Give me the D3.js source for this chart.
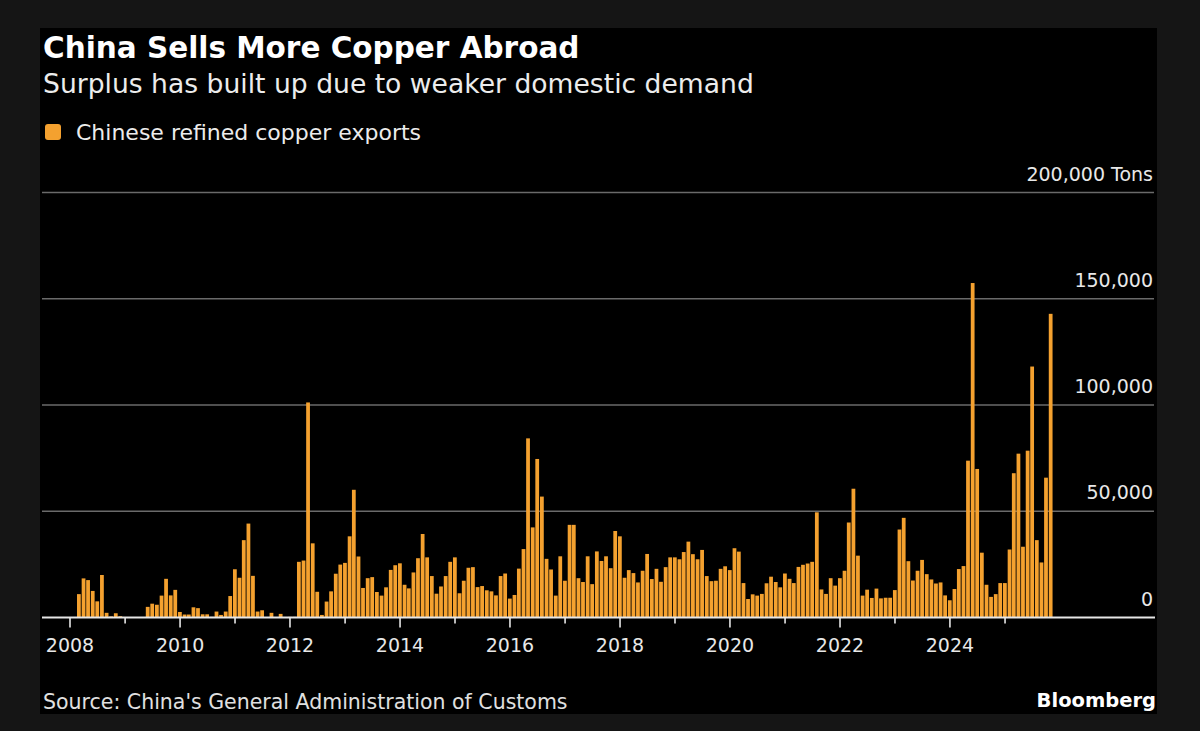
<!DOCTYPE html>
<html>
<head>
<meta charset="utf-8">
<script src="https://cdn.jsdelivr.net/npm/d3@7"></script>
<style>
  html, body { margin: 0; padding: 0; background: #151515; }
  svg { display: block; }
  text { font-family: "DejaVu Sans", sans-serif; }
</style>
</head>
<body>
<svg id="chart" width="1200" height="731"></svg>
<script>
// ---- data (thousand tons, monthly, starting Jan 2008) ----
const firstMonth = [2008, 0];
const exportsKt = [
  // 2008
  0, 11, 18.4, 17.6, 12.5, 7.6, 20, 2.2, 0.5, 2, 0.6, 0,
  // 2009
  0, 0, 0, 0, 5, 6.5, 6, 10.3, 18.2, 10.4, 13, 2.6,
  // 2010
  1.4, 1.4, 4.8, 4.4, 1.5, 1.5, 0.3, 2.8, 1.2, 2.8, 10.1, 22.7,
  // 2011
  18.7, 36.4, 44.2, 19.6, 2.8, 3.4, 0, 2.2, 0, 1.7, 0, 0.3,
  // 2012
  0.3, 26.2, 26.8, 101.2, 34.9, 12.1, 1.2, 7.5, 12.3, 20.6, 24.9, 25.7,
  // 2013
  38.2, 60.1, 28.7, 13.9, 18.5, 19, 12, 10.3, 14.2, 22.4, 24.6, 25.5,
  // 2014
  15.4, 13.7, 21.2, 27.9, 39.3, 28.3, 19.5, 11.2, 14.6, 19.5, 26.2, 28.3,
  // 2015
  11.4, 17.3, 23.4, 23.7, 14.3, 14.8, 12.8, 12.3, 10.4, 19.5, 20.7, 8.9,
  // 2016
  10.6, 23, 32.2, 84.3, 42.4, 74.6, 56.9, 27.6, 22.6, 10.3, 28.8, 17.3,
  // 2017
  43.6, 43.6, 18.5, 16.7, 28.8, 15.7, 31.1, 26.6, 28.8, 23.2, 40.7, 38.2,
  // 2018
  18.7, 22.3, 20.9, 16.5, 22, 29.9, 18.1, 22.9, 16.8, 23.7, 28.3, 28.3,
  // 2019
  27.4, 30.8, 35.7, 29.8, 27.4, 31.8, 19.5, 17.1, 17.3, 22.9, 24.1, 22.3,
  // 2020
  32.6, 31, 16.2, 8.7, 10.9, 10.3, 11.1, 16.1, 19.2, 16.7, 14.2, 20.7,
  // 2021
  18.2, 16.2, 23.8, 24.8, 25.4, 26.2, 49.5, 13.2, 11.1, 18.5, 15, 18.5,
  // 2022
  22, 44.7, 60.6, 29.1, 10.3, 13.1, 9.2, 13.6, 9, 9.3, 9.3, 12.9,
  // 2023
  41.4, 46.9, 26.5, 17.4, 22, 27.1, 20.4, 17.9, 16, 16.5, 10.4, 8.1,
  // 2024
  13.4, 22.8, 24.2, 73.8, 157.4, 69.9, 30.5, 15.4, 9.7, 11, 16.2, 16.2,
  // 2025
  32, 67.9, 77.1, 33.3, 78.5, 118.1, 36.4, 25.9, 65.8, 142.9
];
const yTickValues = [0, 50, 100, 150, 200];
const yTickLabels = ["0", "50,000", "100,000", "150,000", "200,000 Tons"];
const xTickYears = [2008, 2009, 2010, 2011, 2012, 2013, 2014, 2015, 2016, 2017, 2018, 2019, 2020, 2021, 2022, 2023, 2024, 2025];
const xLabelYears = [2008, 2010, 2012, 2014, 2016, 2018, 2020, 2022, 2024];

const titleText = "China Sells More Copper Abroad";
const subtitleText = "Surplus has built up due to weaker domestic demand";
const legendText = "Chinese refined copper exports";
const sourceText = "Source: China's General Administration of Customs";

// ---- layout ----
const svg = d3.select("#chart");
const barColor = "#f4a12f";

svg.append("rect").attr("x", 40).attr("y", 28).attr("width", 1117).attr("height", 686).attr("fill", "#000");

const x = d3.scaleUtc()
  .domain([new Date(Date.UTC(2008, 0, 1)), new Date(Date.UTC(2026, 0, 1))])
  .range([70, 1060]);
const y = d3.scaleLinear().domain([0, 200]).range([617.5, 192.5]);

// gridlines
svg.append("g").selectAll("line")
  .data(yTickValues.filter(v => v > 0))
  .join("line")
  .attr("x1", 42).attr("x2", 1154)
  .attr("y1", d => y(d)).attr("y2", d => y(d))
  .attr("stroke", "#6a6a6a").attr("stroke-width", 1.4);

// y labels
svg.append("g").selectAll("text")
  .data(yTickValues)
  .join("text")
  .attr("x", 1153)
  .attr("y", d => y(d) - 12)
  .attr("text-anchor", "end")
  .attr("fill", "#e8e8e8")
  .attr("font-size", 19)
  .text((d, i) => yTickLabels[i]);

// bars
const months = exportsKt.map((v, i) => ({
  date: new Date(Date.UTC(firstMonth[0], firstMonth[1] + i, 1)),
  value: v
}));
const monthW = x(new Date(Date.UTC(2009, 0, 1))) - x(new Date(Date.UTC(2008, 0, 1)));
const barW = monthW / 12 * 0.82;
svg.append("g").selectAll("rect")
  .data(months)
  .join("rect")
  .attr("x", d => {
    const endOfMonth = new Date(Date.UTC(d.date.getUTCFullYear(), d.date.getUTCMonth() + 1, 0));
    return x(endOfMonth) - barW / 2;
  })
  .attr("width", barW)
  .attr("y", d => y(d.value))
  .attr("height", d => y(0) - y(d.value))
  .attr("fill", barColor);

// baseline
svg.append("line")
  .attr("x1", 42).attr("x2", 1155)
  .attr("y1", y(0)).attr("y2", y(0))
  .attr("stroke", "#e6e6e6").attr("stroke-width", 2);

// x ticks
svg.append("g").selectAll("line")
  .data(xTickYears)
  .join("line")
  .attr("x1", d => x(new Date(Date.UTC(d, 0, 1))))
  .attr("x2", d => x(new Date(Date.UTC(d, 0, 1))))
  .attr("y1", y(0))
  .attr("y2", d => y(0) + (xLabelYears.includes(d) ? 10 : 6))
  .attr("stroke", "#e6e6e6").attr("stroke-width", 1.6);

svg.append("g").selectAll("text")
  .data(xLabelYears)
  .join("text")
  .attr("x", d => x(new Date(Date.UTC(d, 0, 1))))
  .attr("y", 652)
  .attr("text-anchor", "middle")
  .attr("fill", "#e8e8e8")
  .attr("font-size", 19)
  .text(d => d);

// titles
svg.append("text").attr("x", 43).attr("y", 58)
  .attr("fill", "#fff").attr("font-size", 29.5).attr("font-weight", "bold")
  .text(titleText);
svg.append("text").attr("x", 43).attr("y", 93)
  .attr("fill", "#ececec").attr("font-size", 26.6)
  .text(subtitleText);

// legend
svg.append("rect").attr("x", 45).attr("y", 124).attr("width", 16).attr("height", 16)
  .attr("rx", 3).attr("fill", barColor);
svg.append("text").attr("x", 76).attr("y", 140)
  .attr("fill", "#ececec").attr("font-size", 22)
  .text(legendText);

// footer
svg.append("text").attr("x", 43).attr("y", 709)
  .attr("fill", "#e0e0e0").attr("font-size", 20.5)
  .text(sourceText);
svg.append("text").attr("x", 1156).attr("y", 707)
  .attr("text-anchor", "end")
  .attr("fill", "#fff").attr("font-size", 19.5).attr("font-weight", "bold")
  .text("Bloomberg");
</script>
</body>
</html>
